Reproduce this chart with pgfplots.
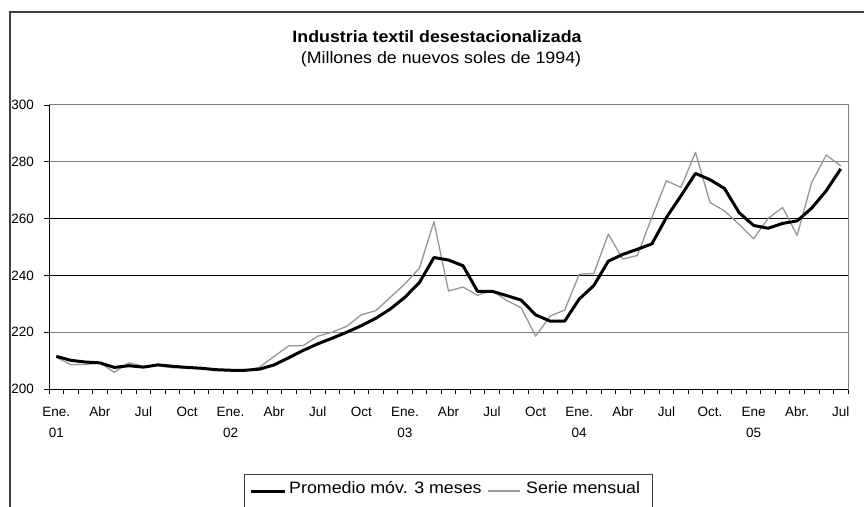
\documentclass[border=0pt]{standalone}
\usepackage{fontspec}
\setmainfont{Liberation Sans}
\newfontfamily\widefont[FakeStretch=1.08]{Liberation Sans}
\usepackage{pgfplots}
\usepackage{pgfplotstable}
\pgfplotsset{compat=1.18}
\definecolor{serie}{RGB}{150,150,150}
\definecolor{framec}{RGB}{64,64,64}
\definecolor{gridg}{RGB}{128,128,128}

\pgfplotstableread{
i  ma     serie
0  211.5  211.2
1  210.1  208.6
2  209.5  208.6
3  209.2  209.2
4  207.6  205.9
5  208.2  209.2
6  207.7  208.0
7  208.5  208.2
8  208.0  207.5
9  207.6  207.4
10 207.3  207.2
11 206.8  206.6
12 206.6  206.5
13 206.6  206.4
14 207.0  207.7
15 208.5  211.5
16 211.0  215.2
17 213.6  215.3
18 215.9  218.6
19 217.9  220.0
20 220.0  222.1
21 222.3  226.1
22 224.9  227.6
23 228.2  232.3
24 232.3  237.0
25 237.5  242.6
26 246.3  258.9
27 245.4  234.5
28 243.4  235.9
29 234.4  233.0
30 234.4  234.7
31 232.9  231.2
32 231.3  228.6
33 226.1  218.6
34 223.9  225.7
35 223.9  227.8
36 231.7  240.4
37 236.4  240.7
38 245.0  254.5
39 247.4  245.8
40 249.2  247.0
41 251.1  260.5
42 260.4  273.3
43 268.0  271.0
44 275.9  283.3
45 273.7  265.7
46 270.6  262.7
47 262.1  258.0
48 257.6  252.9
49 256.6  260.1
50 258.3  263.9
51 259.2  254.1
52 263.7  272.7
53 269.8  282.4
54 277.5  278.6
}\datatable

\begin{document}
\begin{tikzpicture}[x=1pt,y=1pt]
\useasboundingbox (0,0) rectangle (864,506);
% outer chart frame (cut by the picture edges)
\draw[framec, line width=1.5pt] (10,-10) -- (10,494) -- (880,494);
% titles
\node[anchor=base, inner sep=0pt, font=\widefont\fontsize{16.5}{19}\selectfont\bfseries] at (437,463) {Industria textil desestacionalizada};
\node[anchor=base, inner sep=0pt, font=\widefont\fontsize{16.5}{19}\selectfont] at (441,442.7) {(Millones de nuevos soles de 1994)};

\begin{axis}[
  at={(49pt,117pt)}, anchor=south west,
  scale only axis, width=799pt, height=284pt,
  xmin=-0.5, xmax=54.5, ymin=200, ymax=300,
  axis line style={draw=gridg, line width=1pt},
  tick pos=left, tick align=outside,
  major tick length=0pt, minor tick length=4.5pt,
  tick style={black, line width=0.8pt},
  xtick={0,3,...,54},
  xticklabels={Ene.,Abr,Jul,Oct,Ene.,Abr,Jul,Oct,Ene.,Abr,Jul,Oct,Ene.,Abr,Jul,Oct.,Ene,Abr.,Jul},
  minor xtick={-0.5,0.5,...,54.5},
  extra x ticks={0,12,24,36,48},
  extra x tick labels={01,02,03,04,05},
  extra x tick style={xticklabel style={yshift=-20.6pt}},
  ytick={200,220,280,300},
  minor ytick={200,220,...,300},
  extra y ticks={240,260},
  extra y tick style={grid=major, major grid style={black, line width=1pt}},
  ymajorgrids=true,
  major grid style={gridg, line width=1pt},
  /pgf/number format/assume math mode=true,
  ticklabel style={font=\fontsize{13.5}{16}\selectfont},
  xticklabel style={anchor=base, inner sep=0pt, yshift=-27.7pt},
  yticklabel style={anchor=east, inner sep=0pt, xshift=-15pt},
  clip=false,
]
\addplot[serie, line width=1.3pt, line join=round] table[x=i, y=serie] {\datatable};
\addplot[black, line width=3pt, line join=round] table[x=i, y=ma] {\datatable};
\draw[black, line width=1pt] (rel axis cs:0,1) -- (rel axis cs:0,0) -- (rel axis cs:1,0);
\end{axis}

% legend (box cut by the bottom edge)
\draw[framec, line width=1pt] (244,-10) rectangle (652,32);
\draw[black, line width=3pt] (251,15) -- (285,15);
\node[anchor=base west, inner sep=0pt, font=\widefont\fontsize{16.5}{19}\selectfont] at (289,12.7) {Promedio móv. 3 meses};
\draw[serie, line width=1.3pt] (488,15) -- (520,15);
\node[anchor=base west, inner sep=0pt, font=\widefont\fontsize{16.5}{19}\selectfont] at (526,12.7) {Serie mensual};
\end{tikzpicture}
\end{document}
